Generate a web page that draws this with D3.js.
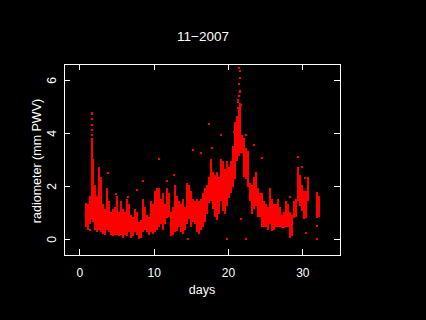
<!DOCTYPE html>
<html>
<head>
<meta charset="utf-8">
<script src="https://cdn.jsdelivr.net/npm/d3@7"></script>
<style>
  html, body { margin: 0; padding: 0; background: #000; }
  svg { display: block; }
  text { fill: #fff; font-family: 'Liberation Sans', Arial, sans-serif; }
</style>
</head>
<body>
<div id="chart"></div>
<script>
// dense radiometer readings, summarised as vertical spreads per time slot
const stripDay = [0.90, 1.17, 1.44, 1.64, 1.84, 2.11, 2.38, 2.65, 2.92, 3.19, 3.46, 3.73, 4.00, 4.26, 4.53, 4.80,
  5.07, 5.34, 5.61, 5.88, 6.15, 6.42, 6.69, 6.96, 7.22, 7.49, 7.76, 8.03, 8.30, 8.57, 8.84, 9.11, 9.38, 9.65, 9.91,
  10.18, 10.45, 10.72, 10.99, 11.26, 11.53, 11.80, 12.07, 12.34, 12.61, 12.87, 13.14, 13.41, 13.68, 13.95, 14.22,
  14.49, 14.76, 15.03, 15.30, 15.57, 15.83, 16.10, 16.37, 16.64, 16.91, 17.18, 17.45, 17.72, 17.99, 18.26, 18.53,
  18.79, 19.06, 19.33, 19.60, 19.87, 20.14, 20.41, 20.68, 20.95, 21.22, 21.42, 21.62, 21.89, 22.16, 22.43, 22.70,
  22.97, 23.23, 23.50, 23.77, 24.04, 24.31, 24.58, 24.85, 25.12, 25.39, 25.66, 25.93, 26.19, 26.46, 26.73, 27.00,
  27.27, 27.54, 27.81, 28.08, 28.35, 28.62, 28.88, 29.15, 29.42, 29.69, 29.96, 30.23, 30.50, 30.77, 31.91, 32.18];

const stripLo = [0.50, 0.40, 0.60, 0.80, 0.70, 0.40, 0.30, 0.40, 0.30, 0.25, 0.20, 0.40, 0.30, 0.20, 0.15, 0.20,
  0.20, 0.15, 0.20, 0.10, 0.20, 0.15, 0.30, 0.10, 0.15, 0.30, 0.20, 0.05, 0.10, 0.30, 0.40, 0.30, 0.20, 0.30, 0.25,
  0.30, 0.40, 0.50, 0.60, 0.40, 0.60, 0.85, 0.90, 0.16, 0.20, 0.30, 0.35, 0.50, 0.30, 0.25, 0.40,
  0.60, 0.80, 0.50, 0.70, 0.60, 0.30, 0.25, 0.40, 0.50, 0.70, 1.00, 1.40, 1.50, 1.20, 0.90, 0.75,
  1.00, 1.50, 1.10, 1.00, 1.30, 1.60, 1.80, 2.00, 2.30, 3.00, 3.20, 3.30, 3.30, 2.40, 2.30, 2.00,
  1.50, 1.00, 1.20, 1.30, 0.90, 0.90, 0.50, 0.50, 0.50, 0.40, 0.60, 0.35, 0.40, 0.50, 0.50, 0.50,
  0.45, 0.45, 0.50, 0.50, 0.10, 0.15, 0.85, 0.90, 1.50, 1.30, 1.10, 0.80, 0.85, 1.50, 0.85, 0.90];

const stripHi = [1.35, 1.30, 1.60, 3.80, 3.00, 2.00, 1.60, 2.70, 2.30, 1.30, 1.10, 1.90, 1.40, 1.00, 1.10, 1.20,
  1.60, 1.00, 1.40, 1.10, 1.00, 1.50, 1.30, 0.90, 0.80, 1.10, 1.00, 0.60, 0.70, 1.50, 1.20, 0.90, 0.80, 1.40, 1.30,
  1.80, 1.90, 1.90, 1.50, 1.70, 1.30, 1.90, 1.70, 1.00, 1.20, 2.00, 1.60, 1.40, 1.30, 1.50, 1.20,
  2.10, 2.00, 1.80, 1.50, 1.40, 1.50, 1.40, 1.50, 1.70, 1.90, 2.00, 2.30, 3.00, 2.50, 2.40, 2.50,
  2.30, 3.00, 2.90, 2.60, 2.90, 2.70, 2.90, 3.50, 4.40, 4.60, 4.90, 5.10, 3.90, 3.80, 3.40, 3.30,
  2.10, 2.00, 2.30, 2.50, 1.90, 1.70, 1.70, 1.40, 1.30, 1.20, 1.90, 1.50, 1.30, 1.30, 1.50, 1.20,
  0.90, 1.00, 1.40, 1.30, 1.00, 0.90, 1.40, 1.50, 2.70, 2.40, 2.00, 1.80, 1.80, 2.30, 1.74, 1.60];

// isolated readings away from the main spread
const pointDay = [1.65, 1.67, 1.70, 1.65, 1.70, 1.68, 1.44, 3.90, 4.95, 6.60, 7.70, 8.60, 10.70, 11.80, 12.80,
  14.67, 15.30, 16.35, 17.45, 17.80, 19.00, 19.84, 20.75, 21.70, 22.40, 22.44, 23.50, 24.60, 28.40, 29.40,
  30.00, 30.40, 30.50, 31.95, 31.95,
  21.50, 21.56, 21.62, 21.48, 21.66, 21.44, 21.70, 21.40, 21.58, 21.30, 21.36];
const pointVal = [4.78, 4.72, 4.53, 4.30, 4.12, 3.95, 0.35, 2.50, 1.72, 1.60, 1.88, 2.22, 3.02, 2.22, 2.43,
  0.00, 3.37, 3.25, 4.36, 3.43, 3.94, 0.00, 4.06, 0.75, 3.94, 0.00, 3.56, 3.06, 1.61, 3.12,
  2.74, 2.30, 0.25, 0.50, 0.00,
  6.45, 6.35, 6.10, 5.85, 5.60, 5.40, 5.07, 5.25, 5.55, 4.95, 5.20];

const xTicks = [0, 10, 20, 30];
const yTicks = [0, 2, 4, 6];

const width = 426;
const height = 320;
const plot = { left: 64, right: 340, top: 64, bottom: 255 };

const svg = d3
  .select('#chart')
  .append('svg')
  .attr('width', width)
  .attr('height', height);

const xScale = d3.scaleLinear().domain([-2.06, 35.07]).range([plot.left, plot.right]);
const yScale = d3.scaleLinear().domain([-0.59, 6.615]).range([plot.bottom, plot.top]);

const strips = stripDay.map((d, i) => ({ day: d, lo: stripLo[i], hi: stripHi[i] }));
const points = pointDay.map((d, i) => ({ day: d, val: pointVal[i] }));

const marks = svg.append('g').attr('shape-rendering', 'crispEdges').attr('fill', '#ff0000');

marks
  .selectAll('rect.strip')
  .data(strips)
  .join('rect')
  .attr('class', 'strip')
  .attr('x', (d) => xScale(d.day) - 1)
  .attr('width', 2)
  .attr('y', (d) => yScale(d.hi) - 1)
  .attr('height', (d) => yScale(d.lo) - yScale(d.hi) + 2);

marks
  .selectAll('rect.pt')
  .data(points)
  .join('rect')
  .attr('class', 'pt')
  .attr('x', (d) => xScale(d.day) - 1)
  .attr('y', (d) => yScale(d.val) - 1)
  .attr('width', 2)
  .attr('height', 2);

// frame with inward ticks on all four sides
const tickLen = 6;

svg.append('g')
  .attr('transform', `translate(0, ${plot.bottom})`)
  .call(d3.axisBottom(xScale).tickValues(xTicks).tickSize(-tickLen).tickPadding(tickLen + 7));
svg.append('g')
  .attr('transform', `translate(0, ${plot.top})`)
  .call(d3.axisTop(xScale).tickValues(xTicks).tickSize(-tickLen).tickFormat(''));
svg.append('g')
  .attr('transform', `translate(${plot.left}, 0)`)
  .call(d3.axisLeft(yScale).tickValues(yTicks).tickSize(-tickLen).tickFormat(''));
svg.append('g')
  .attr('transform', `translate(${plot.right}, 0)`)
  .call(d3.axisRight(yScale).tickValues(yTicks).tickSize(-tickLen).tickFormat(''));

svg.selectAll('.domain').remove();
svg.selectAll('.tick line').attr('stroke', '#fff').attr('shape-rendering', 'crispEdges');
svg.selectAll('.tick text').attr('fill', '#fff').style('font-size', '12px').attr('font-family', null);

svg.append('rect')
  .attr('x', plot.left)
  .attr('y', plot.top)
  .attr('width', plot.right - plot.left)
  .attr('height', plot.bottom - plot.top)
  .attr('fill', 'none')
  .attr('stroke', '#fff')
  .attr('shape-rendering', 'crispEdges');

// rotated y tick labels
svg.append('g')
  .selectAll('text')
  .data(yTicks)
  .join('text')
  .attr('transform', (d) => `translate(55.5, ${yScale(d)}) rotate(-90)`)
  .attr('text-anchor', 'middle')
  .style('font-size', '12px')
  .text((d) => d);

svg.append('text')
  .attr('x', 203)
  .attr('y', 41)
  .attr('text-anchor', 'middle')
  .style('font-size', '13.5px')
  .text('11\u22122007');

svg.append('text')
  .attr('x', 202)
  .attr('y', 294)
  .attr('text-anchor', 'middle')
  .style('font-size', '12.5px')
  .text('days');

svg.append('text')
  .attr('transform', 'translate(40.5, 161) rotate(-90)')
  .attr('text-anchor', 'middle')
  .style('font-size', '12.5px')
  .text('radiometer (mm PWV)');
</script>
</body>
</html>
